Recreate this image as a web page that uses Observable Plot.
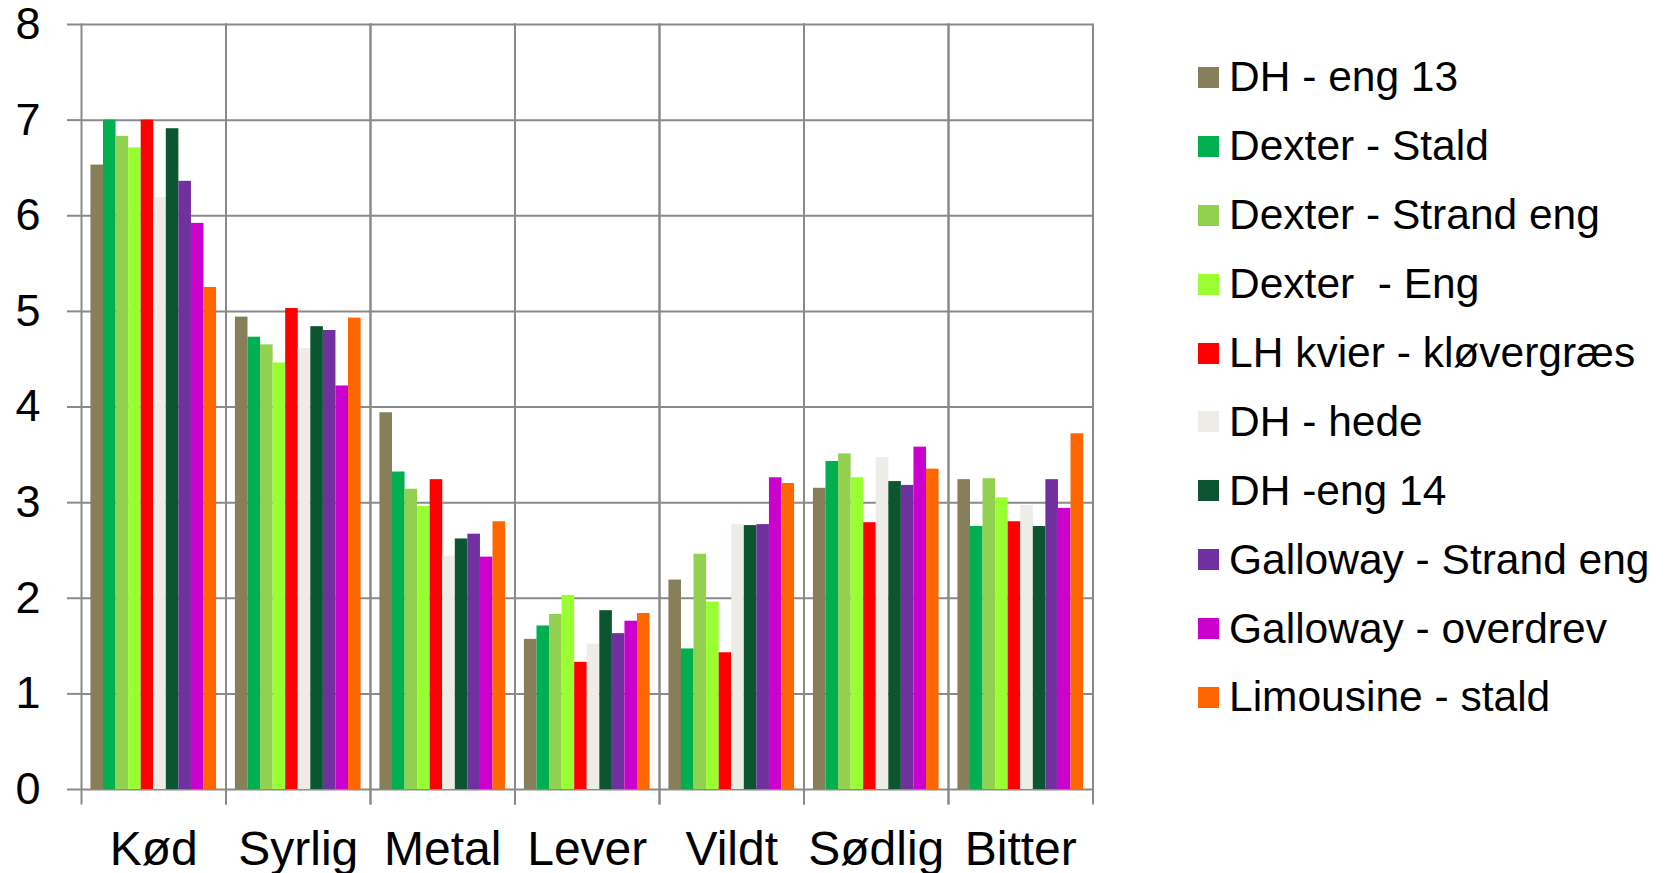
<!DOCTYPE html>
<html>
<head>
<meta charset="utf-8">
<script src="https://cdn.jsdelivr.net/npm/d3@7"></script>
<script src="https://cdn.jsdelivr.net/npm/@observablehq/plot@0.6"></script>
<style>
  html, body { margin: 0; padding: 0; background: #fff; }
  #wrap { position: relative; width: 1665px; height: 873px; font-family: "Liberation Sans", Arial, sans-serif; }
  #legend { position: absolute; left: 1198px; top: 43px; }
  .item { display: flex; align-items: center; height: 68.9px; font-size: 42.5px; color: #000; white-space: pre; }
  .sw { width: 21px; height: 21px; margin-right: 10px; flex: none; }
</style>
</head>
<body>
<div id="wrap"><div id="chart"></div><div id="legend"></div></div>
<script>
const categories = ["Kød", "Syrlig", "Metal", "Lever", "Vildt", "Sødlig", "Bitter"];
const seriesNames = [
  "DH - eng 13",
  "Dexter - Stald",
  "Dexter - Strand eng",
  "Dexter  - Eng",
  "LH kvier - kløvergræs",
  "DH - hede",
  "DH -eng 14",
  "Galloway - Strand eng",
  "Galloway - overdrev",
  "Limousine - stald"
];
const seriesColors = ["#877F59", "#00B050", "#92D050", "#99FF33", "#FF0000", "#EEECE6", "#0B5530", "#7030A0", "#CC00CC", "#FF6600"];

const dhEng13        = [6.53, 4.94, 3.94, 1.57, 2.19, 3.15, 3.24];
const dexterStald    = [7.00, 4.73, 3.32, 1.71, 1.47, 3.43, 2.75];
const dexterStrand   = [6.83, 4.65, 3.14, 1.83, 2.46, 3.51, 3.25];
const dexterEng      = [6.71, 4.46, 2.96, 2.03, 1.96, 3.26, 3.05];
const lhKvier        = [7.00, 5.03, 3.24, 1.33, 1.43, 2.79, 2.80];
const dhHede         = [6.19, 4.61, 2.44, 1.52, 2.77, 3.47, 2.97];
const dhEng14        = [6.91, 4.84, 2.62, 1.87, 2.76, 3.22, 2.75];
const gallowayStrand = [6.36, 4.80, 2.67, 1.63, 2.77, 3.18, 3.24];
const gallowayOver   = [5.92, 4.22, 2.43, 1.76, 3.26, 3.58, 2.94];
const limousine      = [5.25, 4.93, 2.80, 1.84, 3.20, 3.35, 3.72];

const yTicks = [0, 1, 2, 3, 4, 5, 6, 7, 8];

const seriesValues = [dhEng13, dexterStald, dexterStrand, dexterEng, lhKvier, dhHede, dhEng14, gallowayStrand, gallowayOver, limousine];
const data = seriesNames.flatMap((s, i) => categories.map((c, j) => ({cat: c, series: s, value: seriesValues[i][j]})));

const grid = "#8A8A8A";

const chart = Plot.plot({
  width: 1100,
  height: 873,
  marginLeft: 81,
  marginRight: 7.5,
  marginTop: 24,
  marginBottom: 84,
  style: {fontFamily: '"Liberation Sans", Arial, sans-serif', background: "white", color: "black", overflow: "visible"},
  fx: {domain: categories, padding: 0, round: false},
  x: {domain: seriesNames, paddingInner: 0, paddingOuter: 0.75, round: false, axis: null},
  y: {domain: [0, 8]},
  color: {domain: seriesNames, range: seriesColors},
  marks: [
    Plot.ruleY(yTicks, {stroke: grid, strokeWidth: 2}),
    Plot.frame({anchor: "left", stroke: grid, strokeWidth: 2, insetBottom: -14}),
    Plot.frame({anchor: "right", stroke: grid, strokeWidth: 2, insetBottom: -14}),
    Plot.barY(data, {fx: "cat", x: "series", y: "value", fill: "series"}),
    Plot.axisY({ticks: yTicks, tickSize: 14, tickPadding: 27, fontSize: 45, stroke: grid, strokeWidth: 2, fill: "black", label: null, tickFormat: d => String(d)}),
    Plot.axisFx({anchor: "bottom", tickSize: 0, tickPadding: 41, fontSize: 48, fill: "black", label: null})
  ]
});
document.getElementById("chart").appendChild(chart);

const legend = d3.select("#legend");
const items = legend.selectAll("div.item").data(seriesNames).join("div").attr("class", "item");
items.append("div").attr("class", "sw").style("background", (d, i) => seriesColors[i]);
items.append("span").text(d => d);
</script>
</body>
</html>
